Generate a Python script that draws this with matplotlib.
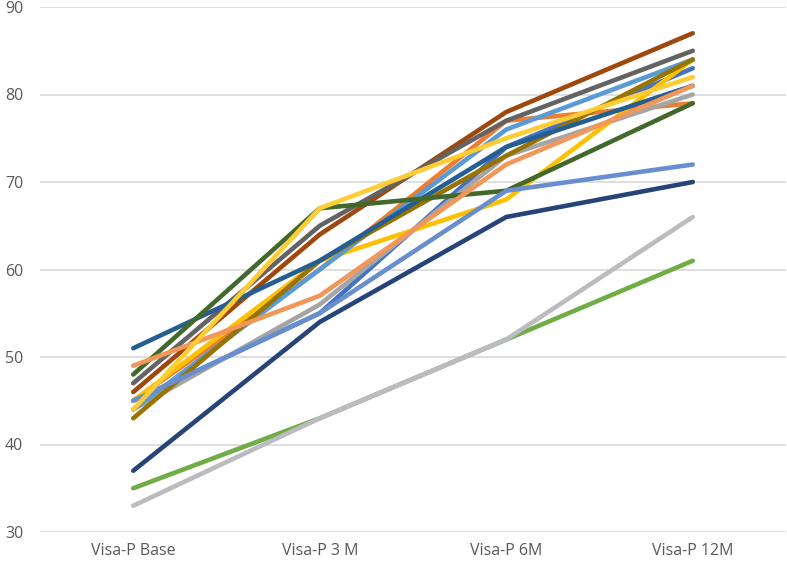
import matplotlib
matplotlib.use("Agg")
import matplotlib.pyplot as plt

plt.rcParams['font.family'] = ['Open Sans', 'DejaVu Sans']

categories = ['Visa-P Base', 'Visa-P 3 M', 'Visa-P 6M', 'Visa-P 12M']

# one row per patient
blue        = [45, 55, 74, 83]
orange      = [45, 60, 77, 79]
gray        = [44, 56, 73, 80]
gold        = [45, 61, 68, 84]
light_blue  = [44, 60, 76, 84]
green       = [35, 43, 52, 61]
navy        = [37, 54, 66, 70]
brown       = [46, 64, 78, 87]
dark_gray   = [47, 65, 77, 85]
olive       = [43, 61, 73, 84]
steel_blue  = [51, 61, 74, 81]
dark_green  = [48, 67, 69, 79]
soft_blue   = [45, 55, 69, 72]
soft_orange = [49, 57, 72, 81]
light_gray  = [33, 43, 52, 66]
light_gold  = [44, 67, 75, 82]

series = [blue, orange, gray, gold, light_blue, green, navy, brown,
          dark_gray, olive, steel_blue, dark_green, soft_blue,
          soft_orange, light_gray, light_gold]
colors = ['#4472C4', '#ED7D31', '#A5A5A5', '#FFC000', '#5B9BD5', '#70AD47',
          '#264478', '#9E480E', '#636363', '#997300', '#255E91', '#43682B',
          '#698ED0', '#F1975A', '#BBBBC0', '#FFCD33']

fig = plt.figure(figsize=(7.87, 5.67), dpi=100, facecolor='white')
ax = fig.add_axes([40/787, 35/567, 746/787, 525/567])

x = range(len(categories))
for vals, c in zip(series, colors):
    ax.plot(x, vals, color=c, linewidth=3.3, solid_capstyle='round',
            solid_joinstyle='round')

ax.set_xlim(-0.5, 3.5)
ax.set_ylim(30, 90)
ax.set_yticks(range(30, 91, 10))
ax.set_xticks(list(x))
ax.set_xticklabels(categories)
ax.grid(True, axis='y', color='#D9D9D9', linewidth=1.2)
ax.set_axisbelow(True)
for s in ax.spines.values():
    s.set_visible(False)
ax.tick_params(axis='both', length=0, labelsize=11.5, labelcolor='#595959')
ax.tick_params(axis='y', pad=12)
ax.tick_params(axis='x', pad=8)

fig.savefig('out.png', dpi=100, facecolor='white')
